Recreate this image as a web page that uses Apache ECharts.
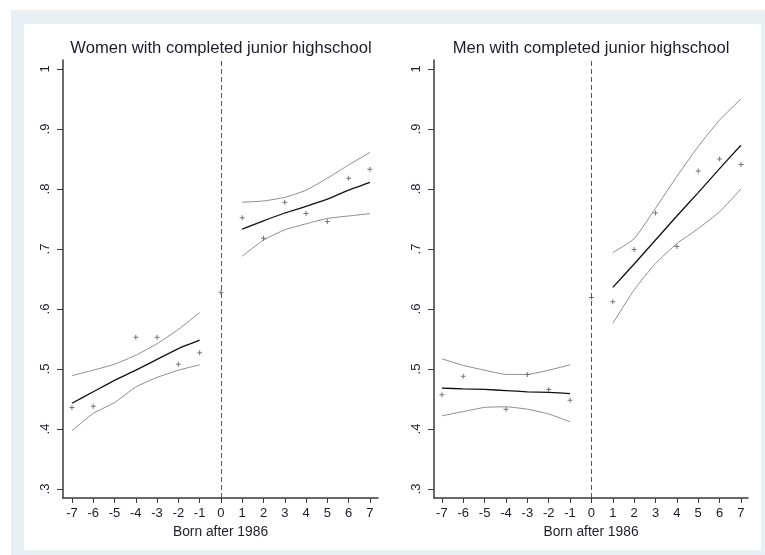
<!DOCTYPE html>
<html><head><meta charset="utf-8">
<script src="https://cdn.jsdelivr.net/npm/echarts@6/dist/echarts.min.js"></script>
<style>
html,body{margin:0;padding:0;background:#fff}
#bg1{position:absolute;left:11px;top:10px;width:754px;height:545px;background:#e9f0f3}
#bg2{position:absolute;left:24px;top:24px;width:737px;height:526px;background:#fff}
#c{position:absolute;left:0;top:0;width:765px;height:555px}
</style>
</head><body><div id="bg1"></div><div id="bg2"></div><div id="c"></div>
<script>
const titles = ['Women with completed junior highschool', 'Men with completed junior highschool'];
const xAxisName = 'Born after 1986';
const xLeft = [-7,-6,-5,-4,-3,-2,-1];
const xRight = [1,2,3,4,5,6,7];
const xTicks = [-7,-6,-5,-4,-3,-2,-1,0,1,2,3,4,5,6,7];
const yTicks = [0.3,0.4,0.5,0.6,0.7,0.8,0.9,1];
const yTickLabels = ['.3','.4','.5','.6','.7','.8','.9','1'];
const pointX = [-7,-6,-4,-3,-2,-1,0,1,2,3,4,5,6,7];

const womenPoints = [0.436,0.438,0.553,0.553,0.508,0.527,0.628,0.752,0.718,0.778,0.759,0.746,0.818,0.833];
const womenFitLeft = [0.443,0.462,0.481,0.498,0.516,0.534,0.548];
const womenUpperLeft = [0.489,0.498,0.508,0.523,0.542,0.566,0.594];
const womenLowerLeft = [0.397,0.426,0.444,0.470,0.486,0.498,0.507];
const womenFitRight = [0.733,0.747,0.760,0.771,0.783,0.798,0.811];
const womenUpperRight = [0.778,0.780,0.786,0.798,0.818,0.840,0.861];
const womenLowerRight = [0.688,0.715,0.732,0.742,0.751,0.755,0.759];

const menPoints = [0.457,0.488,0.433,0.491,0.466,0.448,0.619,0.612,0.699,0.760,0.704,0.830,0.850,0.841];
const menFitLeft = [0.468,0.467,0.466,0.464,0.462,0.461,0.459];
const menUpperLeft = [0.517,0.506,0.498,0.491,0.491,0.498,0.507];
const menLowerLeft = [0.422,0.429,0.436,0.437,0.433,0.425,0.412];
const menFitRight = [0.636,0.675,0.715,0.755,0.794,0.834,0.873];
const menUpperRight = [0.694,0.717,0.768,0.821,0.871,0.915,0.950];
const menLowerRight = [0.576,0.632,0.676,0.709,0.734,0.762,0.800];

const FONT = "'Liberation Sans', Arial, sans-serif";
const zip = (xs, ys) => xs.map((x, i) => [x, ys[i]]);

const panels = [
  {grid:{left:63, top:60, width:315, height:438}, xmin:-7.42, xmax:7.38, title:titles[0], tx:221,
   pts:womenPoints, fl:womenFitLeft, ul:womenUpperLeft, ll:womenLowerLeft, fr:womenFitRight, ur:womenUpperRight, lr:womenLowerRight},
  {grid:{left:434, top:60, width:314, height:438}, xmin:-7.37, xmax:7.33, title:titles[1], tx:591,
   pts:menPoints, fl:menFitLeft, ul:menUpperLeft, ll:menLowerLeft, fr:menFitRight, ur:menUpperRight, lr:menLowerRight}
];

const plus = 'path://M-0.6,-3H0.6V-0.6H3V0.6H0.6V3H-0.6V0.6H-3V-0.6H-0.6Z';
const axisColor = '#3a3a3a';
const textColor = '#1c1c2c';

const grids = [], xAxes = [], yAxes = [], series = [], graphics = [];
panels.forEach((p, i) => {
  grids.push(p.grid);
  xAxes.push({
    type:'value', gridIndex:i, min:p.xmin, max:p.xmax,
    axisLine:{show:true, onZero:false, lineStyle:{color:axisColor, width:1.5}},
    axisTick:{show:true, customValues:xTicks, length:5, lineStyle:{color:axisColor, width:1}},
    axisLabel:{customValues:xTicks, margin:9, fontSize:13, color:textColor, fontFamily:FONT},
    splitLine:{show:false},
    name:xAxisName, nameLocation:'middle', nameGap:21,
    nameTextStyle:{fontSize:13.8, color:textColor, fontFamily:FONT}
  });
  yAxes.push({
    type:'value', gridIndex:i, min:0.285, max:1.015,
    axisLine:{show:true, onZero:false, lineStyle:{color:axisColor, width:1.5}},
    axisTick:{show:true, customValues:yTicks, length:6, lineStyle:{color:axisColor, width:1}},
    axisLabel:{customValues:yTicks, rotate:90, margin:11, fontSize:13, color:textColor, fontFamily:FONT,
      formatter: v => { const k = yTicks.findIndex(t => Math.abs(t - v) < 1e-6); return k >= 0 ? yTickLabels[k] : ''; }},
    splitLine:{show:false}
  });
  const line = (data, color, width) => ({
    type:'line', xAxisIndex:i, yAxisIndex:i, data, symbol:'none', smooth:0.15,
    lineStyle:{color, width}, silent:true, z:3
  });
  series.push(line(zip(xLeft, p.ul), '#8c8c8c', 1));
  series.push(line(zip(xLeft, p.ll), '#8c8c8c', 1));
  series.push(line(zip(xRight, p.ur), '#8c8c8c', 1));
  series.push(line(zip(xRight, p.lr), '#8c8c8c', 1));
  series.push(line(zip(xLeft, p.fl), '#111', 1.3));
  series.push(line(zip(xRight, p.fr), '#111', 1.3));
  series.push({
    type:'scatter', xAxisIndex:i, yAxisIndex:i, data:zip(pointX, p.pts),
    symbol:plus, symbolSize:5, itemStyle:{color:'#555'}, silent:true, z:4,
    markLine:{silent:true, symbol:'none', animation:false, label:{show:false},
      lineStyle:{type:[5,3], color:'#555', width:1}, data:[{xAxis:0}]}
  });
  graphics.push({type:'text', x:p.tx, y:48, style:{text:p.title, fontSize:16.6, fontFamily:FONT,
    fill:textColor, textAlign:'center', textVerticalAlign:'middle'}});
});

const chart = echarts.init(document.getElementById('c'), null, {renderer:'canvas'});
chart.setOption({
  backgroundColor:'transparent', animation:false,
  grid:grids, xAxis:xAxes, yAxis:yAxes, series, graphic:graphics
});
</script>
</body></html>
